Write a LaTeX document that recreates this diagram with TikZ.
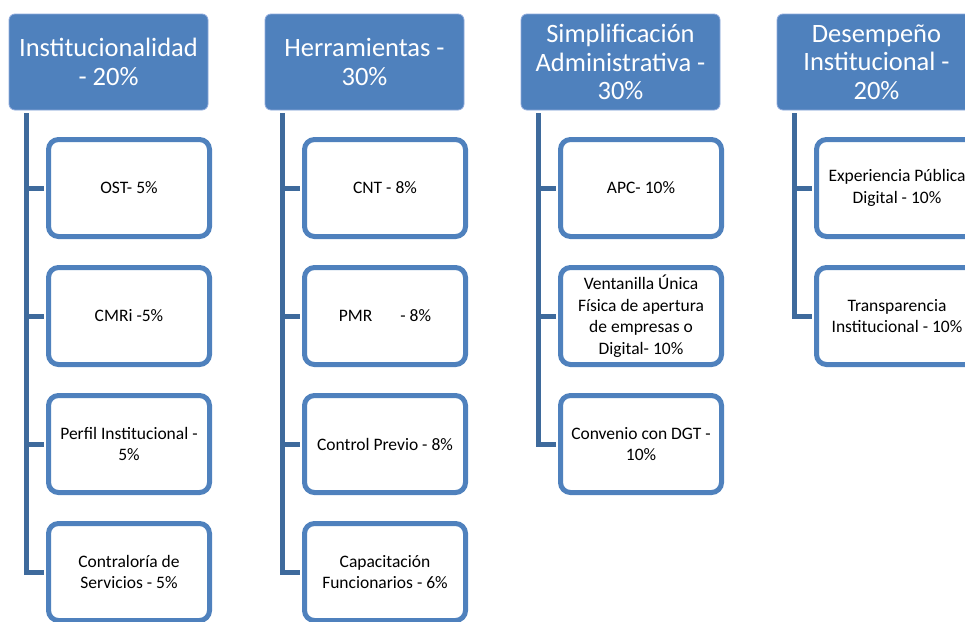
\documentclass[tikz,border=0pt]{standalone}
\usepackage{fontspec}
\setmainfont{Carlito}
\definecolor{accblue}{HTML}{4F81BD}
\definecolor{linkblue}{HTML}{3E6A9C}
\definecolor{hdrline}{HTML}{8FAADC}
\begin{document}
\begin{tikzpicture}[x=1pt,y=-1pt,
  header/.style={draw=hdrline,line width=0.8pt,fill=accblue,rounded corners=6pt,
    minimum width=199pt,minimum height=96pt,inner sep=2pt,align=center,
    text=white,font=\fontsize{26.5}{28.5}\selectfont},
  child/.style={draw=accblue,line width=5pt,fill=white,rounded corners=10pt,
    minimum width=161pt,minimum height=97pt,inner sep=2pt,align=center,
    text=black,font=\fontsize{17.5}{21.5}\selectfont},
  link/.style={draw=linkblue,line width=5pt}]
\useasboundingbox (0,0) rectangle (965,621);
\clip (0,0) rectangle (965,621);
% column 1
\node[header] (h1) at (108.5,62) {Institucionalidad\\- 20\%};
\node[child] (c1a) at (129,188) {OST- 5\%};
\node[child] (c1b) at (129,316) {CMRi -5\%};
\node[child] (c1c) at (129,444) {Perfil Institucional -\\5\%};
\node[child] (c1d) at (129,572) {Contraloría de\\Servicios - 5\%};
% column 2
\node[header] (h2) at (364.5,62) {Herramientas -\\30\%};
\node[child] (c2a) at (385,188) {CNT - 8\%};
\node[child] (c2b) at (385,316) {PMR\hspace{1.6em}- 8\%};
\node[child] (c2c) at (385,444) {Control Previo - 8\%};
\node[child] (c2d) at (385,572) {Capacitación\\Funcionarios - 6\%};
% column 3
\node[header] (h3) at (620.5,62) {Simplificación\\Administrativa -\\30\%};
\node[child] (c3a) at (641,188) {APC- 10\%};
\node[child] (c3b) at (641,316) {Ventanilla Única\\Física de apertura\\de empresas o\\Digital- 10\%};
\node[child] (c3c) at (641,444) {Convenio con DGT -\\10\%};
% column 4
\node[header] (h4) at (876.5,62) {Desempeño\\Institucional -\\20\%};
\node[child] (c4a) at (897,188) {Experiencia Pública\\Digital - 10\%};
\node[child] (c4b) at (897,316) {Transparencia\\Institucional - 10\%};
% connectors
\foreach \h/\c in {h1/c1a,h1/c1b,h1/c1c,h1/c1d,h2/c2a,h2/c2b,h2/c2c,h2/c2d,h3/c3a,h3/c3b,h3/c3c,h4/c4a,h4/c4b}
  \draw[link] ([xshift=18pt,yshift=-3pt]\h.south west) |- ([xshift=-2pt]\c.west);
\end{tikzpicture}
\end{document}
